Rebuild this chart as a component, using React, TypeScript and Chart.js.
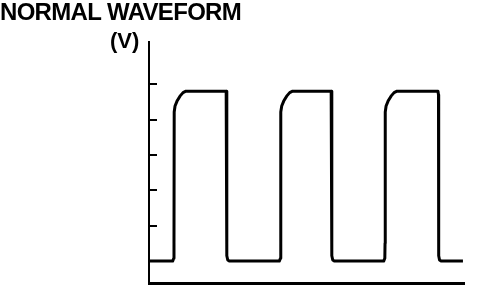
import React, { useEffect, useRef } from "react";
import { Chart, registerables } from "chart.js";

Chart.register(...registerables);

const titleText = "NORMAL WAVEFORM";
const unitText = "(V)";
const tickValues = [1, 2, 3, 4, 5];

const waveX = [
  0, 2.25, 2.36, 2.38, 2.4, 2.48, 2.67, 2.95, 3.24, 3.52, 7.35, 7.4, 7.42, 7.5, 7.65,
  12.41, 12.52, 12.54, 12.56, 12.64, 12.83, 13.11, 13.4, 13.68, 17.35, 17.4, 17.42, 17.5, 17.65,
  22.35, 22.46, 22.48, 22.5, 22.58, 22.77, 23.05, 23.34, 23.62, 27.52, 27.57, 27.59, 27.67, 27.82,
  29.9,
];
const waveV = [
  0, 0, 0.08, 0.5, 4.21, 4.38, 4.52, 4.66, 4.76, 4.8, 4.8, 4.7, 0.15, 0.03, 0,
  0, 0.08, 0.5, 4.21, 4.38, 4.52, 4.66, 4.76, 4.8, 4.8, 4.7, 0.15, 0.03, 0,
  0, 0.08, 0.5, 4.21, 4.38, 4.52, 4.66, 4.76, 4.8, 4.8, 4.7, 0.15, 0.03, 0,
  0,
];

const decorPlugin = {
  id: "decor",
  afterDraw(chart: any) {
    const ctx = chart.ctx;
    const y = chart.scales.y;
    const area = chart.chartArea;
    ctx.save();
    ctx.strokeStyle = "#000";
    ctx.lineWidth = 2;
    tickValues.forEach((v) => {
      const py = Math.round(y.getPixelForValue(v));
      ctx.beginPath();
      ctx.moveTo(area.left, py);
      ctx.lineTo(area.left + 8, py);
      ctx.stroke();
    });
    ctx.fillStyle = "#000";
    ctx.textBaseline = "alphabetic";
    ctx.textAlign = "left";
    ctx.font = "bold 24px 'Liberation Sans', Arial, sans-serif";
    try { (ctx as any).letterSpacing = "-0.7px"; } catch (e) {}
    ctx.fillText(titleText, 0, 20);
    try { (ctx as any).letterSpacing = "0px"; } catch (e) {}
    ctx.font = "bold 22px 'Liberation Sans', Arial, sans-serif";
    ctx.fillText(unitText, 110, 48);
    ctx.restore();
  },
};

export default function App() {
  const ref = useRef<HTMLCanvasElement | null>(null);
  useEffect(() => {
    if (!ref.current) return;
    const chart = new Chart(ref.current, {
      type: "line",
      data: {
        datasets: [
          {
            data: waveX.map((x, i) => ({ x, y: waveV[i] })),
            borderColor: "#000",
            borderWidth: 3,
            pointRadius: 0,
            tension: 0,
            fill: false,
            borderJoinStyle: "round",
          },
        ],
      },
      options: {
        animation: false,
        responsive: false,
        layout: { padding: { left: 149, right: 16, top: 42, bottom: 5 } },
        plugins: { legend: { display: false }, tooltip: { enabled: false }, title: { display: false } },
        scales: {
          x: {
            type: "linear",
            min: 0,
            max: 30,
            grid: { display: false, drawTicks: false, tickLength: 0 },
            ticks: { display: false },
            border: { display: true, color: "#000", width: 3 },
          },
          y: {
            type: "linear",
            min: -0.62,
            max: 6.19,
            grid: { display: false, drawTicks: false, tickLength: 0 },
            ticks: { display: false },
            border: { display: true, color: "#000", width: 2 },
          },
        },
      },
      plugins: [decorPlugin],
    });
    return () => chart.destroy();
  }, []);
  return (
    <canvas
      ref={ref}
      width={480}
      height={288}
      style={{ position: "absolute", left: 0, top: 0, width: 480, height: 288, display: "block", background: "#fff" }}
    />
  );
}
